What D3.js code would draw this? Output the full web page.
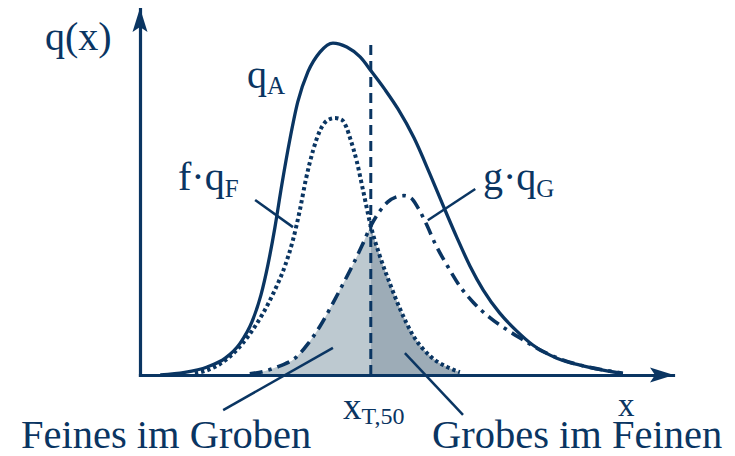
<!DOCTYPE html>
<html>
<head>
<meta charset="utf-8">
<script src="https://cdn.jsdelivr.net/npm/d3@7"></script>
<style>
  html, body { margin: 0; padding: 0; background: #ffffff; }
  svg { display: block; font-family: "Liberation Serif", "Times New Roman", serif; }
</style>
</head>
<body>
<svg id="chart" width="735" height="456"></svg>
<script>
// Particle size x (arbitrary units) and density values q(x).
// Feed material q_A
const qA_x = [0.38, 0.84, 1.26, 1.60, 1.88, 2.10, 2.27, 2.40, 2.53, 2.66, 2.81, 2.96, 3.15, 3.38, 3.62, 3.88, 4.13, 4.35, 4.60, 4.84, 5.14, 5.44, 5.69, 5.95, 6.19, 6.44, 6.75, 7.07, 7.37, 7.82, 8.31, 8.76, 9.06];
const qA_y = [0.000, 0.007, 0.022, 0.046, 0.087, 0.145, 0.219, 0.301, 0.402, 0.519, 0.642, 0.746, 0.828, 0.883, 0.907, 0.896, 0.869, 0.828, 0.779, 0.727, 0.648, 0.549, 0.462, 0.374, 0.298, 0.232, 0.169, 0.120, 0.082, 0.046, 0.025, 0.011, 0.004];

// Fine fraction f·q_F
const fqF_x = [1.03, 1.28, 1.50, 1.78, 2.06, 2.31, 2.53, 2.72, 2.87, 3.00, 3.11, 3.25, 3.38, 3.53, 3.66, 3.79, 3.87, 3.94, 4.07, 4.18, 4.33, 4.50, 4.69, 4.88, 5.12, 5.44, 5.76, 6.00];
const fqF_y = [0.004, 0.014, 0.030, 0.063, 0.112, 0.169, 0.232, 0.298, 0.369, 0.451, 0.533, 0.615, 0.669, 0.697, 0.702, 0.697, 0.678, 0.648, 0.582, 0.508, 0.407, 0.325, 0.249, 0.180, 0.109, 0.052, 0.022, 0.008];

// Coarse fraction g·q_G
const gqG_x = [2.06, 2.35, 2.63, 2.91, 3.15, 3.38, 3.60, 3.81, 4.00, 4.17, 4.33, 4.50, 4.65, 4.80, 4.95, 5.08, 5.22, 5.37, 5.55, 5.78, 6.00, 6.25, 6.57, 6.89, 7.19, 7.51, 7.88, 8.31, 8.76, 9.06];
const gqG_y = [0.003, 0.011, 0.025, 0.046, 0.085, 0.134, 0.191, 0.249, 0.303, 0.355, 0.407, 0.448, 0.473, 0.486, 0.490, 0.484, 0.456, 0.413, 0.355, 0.295, 0.243, 0.199, 0.156, 0.123, 0.096, 0.068, 0.044, 0.025, 0.012, 0.005];

// Cut size x_T,50 and the height of its marker line
const xCut = 4.33;
const cutTop = 0.915;

// Leader lines [x1, y1, x2, y2] in data units
const leaderFqF = [2.16, 0.478, 2.87, 0.404];
const leaderGqG = [5.40, 0.423, 6.29, 0.508];
const leaderFine = [3.62, 0.074, 1.56, -0.096];
const leaderCoarse = [4.97, 0.060, 6.06, -0.109];

const ink = "#0a3562";
const shadeFine = "#bdc9d0";
const shadeCoarse = "#9dacb7";

const svg = d3.select("#chart");
const x = d3.scaleLinear().domain([0, 10]).range([140, 673]);
const y = d3.scaleLinear().domain([0, 1]).range([375, 9]);

const pts = (xs, ys) => xs.map((v, i) => [v, ys[i]]);
const qA = pts(qA_x, qA_y);
const fqF = pts(fqF_x, fqF_y);
const gqG = pts(gqG_x, gqG_y);

const line = d3.line().x(d => x(d[0])).y(d => y(d[1])).curve(d3.curveMonotoneX);
const area = d3.area().x(d => x(d[0])).y0(y(0)).y1(d => y(d[1])).curve(d3.curveMonotoneX);

// clip regions left and right of the cut size
const defs = svg.append("defs");
defs.append("clipPath").attr("id", "leftOfCut").append("rect")
  .attr("x", x(0)).attr("y", 0).attr("width", x(xCut) - x(0)).attr("height", y(0));
defs.append("clipPath").attr("id", "rightOfCut").append("rect")
  .attr("x", x(xCut)).attr("y", 0).attr("width", x(10) - x(xCut)).attr("height", y(0));

// misplaced material: fines in the coarse product, coarse in the fine product
svg.append("path").datum(gqG).attr("d", area).attr("fill", shadeFine).attr("clip-path", "url(#leftOfCut)");
svg.append("path").datum(fqF).attr("d", area).attr("fill", shadeCoarse).attr("clip-path", "url(#rightOfCut)");

// axes
const gx = svg.append("g").attr("transform", `translate(0,${y(0)})`)
  .call(d3.axisBottom(x).ticks(0).tickSizeOuter(0));
const gy = svg.append("g").attr("transform", `translate(${x(0)},0)`)
  .call(d3.axisLeft(y).ticks(0).tickSizeOuter(0));
[gx, gy].forEach(g => g.select(".domain")
  .attr("stroke", ink).attr("stroke-width", 3.2).attr("stroke-linecap", "square"));

const arrow = "M4,0 L-20,-7.5 L-15,0 L-20,7.5 Z";
svg.append("path").attr("d", arrow).attr("fill", ink)
  .attr("transform", `translate(${x(10) - 3},${y(0)})`);
svg.append("path").attr("d", arrow).attr("fill", ink)
  .attr("transform", `translate(${x(0)},${y(1) + 3}) rotate(-90)`);

// cut size marker
svg.append("line")
  .attr("x1", x(xCut)).attr("x2", x(xCut))
  .attr("y1", y(0)).attr("y2", y(cutTop))
  .attr("stroke", ink).attr("stroke-width", 3).attr("stroke-dasharray", "10,6");

// distribution curves
svg.append("path").datum(fqF).attr("d", line).attr("fill", "none")
  .attr("stroke", ink).attr("stroke-width", 4).attr("stroke-dasharray", "3.4,3");
svg.append("path").datum(gqG).attr("d", line).attr("fill", "none")
  .attr("stroke", ink).attr("stroke-width", 3.6).attr("stroke-dasharray", "13,6,3.5,6");
svg.append("path").datum(qA).attr("d", line).attr("fill", "none")
  .attr("stroke", ink).attr("stroke-width", 3.3);

// leader lines
[leaderFqF, leaderGqG, leaderFine, leaderCoarse].forEach(l => {
  svg.append("line")
    .attr("x1", x(l[0])).attr("y1", y(l[1]))
    .attr("x2", x(l[2])).attr("y2", y(l[3]))
    .attr("stroke", ink).attr("stroke-width", 2.5);
});

// labels
function label(px, py, main, sub, size, subSize, subDy) {
  const t = svg.append("text").attr("x", px).attr("y", py)
    .attr("fill", ink).attr("font-size", size);
  t.append("tspan").text(main);
  if (sub) {
    t.append("tspan").attr("font-size", subSize).attr("dy", subDy).text(sub);
  }
  return t;
}
label(45, 50, "q(x)", null, 40);
label(247, 88, "q", "A", 40, 25, 6);
label(178, 190, "f\u00B7q", "F", 40, 25, 7);
label(483, 190, "g\u00B7q", "G", 40, 25, 7);
label(343, 419, "x", "T,50", 37, 24, 5);
label(618, 416, "x", null, 33);
label(21, 448, "Feines im Groben", null, 40.5);
label(432, 448, "Grobes im Feinen", null, 40.5);
</script>
</body>
</html>
